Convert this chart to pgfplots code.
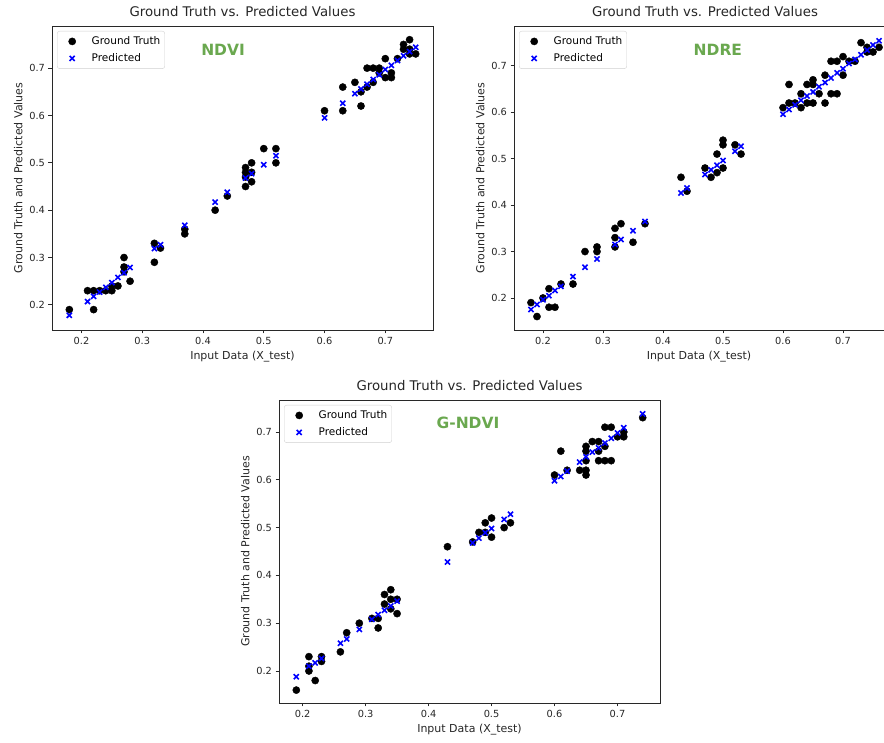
\documentclass[border=0pt]{standalone}
\usepackage{pgfplots}
\pgfplotsset{compat=1.18}
\usepackage{fontspec}
\setmainfont{DejaVu Sans}
\definecolor{ndgreen}{RGB}{106,168,79}
\definecolor{spine}{RGB}{40,40,40}
\tikzset{lab/.style={font=\fontsize{15.5}{17}\selectfont\bfseries, text=ndgreen}}
\pgfplotsset{
  scplot/.style={
    scale only axis,
    anchor=south west,
    tick align=outside,
    tick pos=left,
    major tick length=3.5pt,
    xtick={0.2,0.3,0.4,0.5,0.6,0.7},
    ytick={0.2,0.3,0.4,0.5,0.6,0.7},
    /pgf/number format/assume math mode=true,
    /pgf/number format/fixed,
    /pgf/number format/precision=1,
    /pgf/number format/fixed zerofill,
    ticklabel style={font=\fontsize{9.8}{11}\selectfont, text=black!85},
    label style={font=\fontsize{11}{13}\selectfont, text=black!85},
    title style={font=\fontsize{13.3}{15}\selectfont, text=black!85},
    xlabel={Input Data (X\_test)},
    ylabel={Ground Truth and Predicted Values},
    title={Ground Truth vs. Predicted Values},
    axis line style={spine, line width=0.8pt},
    every tick/.style={spine, line width=0.8pt},
    legend cell align=left,
    legend style={at={(0,1)}, anchor=north west, xshift=5pt, yshift=-5pt,
      draw=black!18, rounded corners=2.5pt, fill=white,
      font=\fontsize{10.5}{12}\selectfont, inner xsep=0pt, inner ysep=3.5pt, row sep=3.5pt,
      nodes={inner xsep=4.5pt, inner ysep=2pt}},
  },
  gt/.style={only marks, mark=*, mark size=3.6pt, color=black, mark options={fill=black, draw=black},
    legend image code/.code={\path[draw=none,fill=none] (0pt,-4pt) rectangle (30pt,4pt); \draw[##1] plot coordinates {(15pt,0pt)};}},
  pr/.style={only marks, mark=x, mark size=3.6pt, color=blue, mark options={draw=blue, line width=1.6pt},
    legend image code/.code={\path[draw=none,fill=none] (0pt,-4pt) rectangle (30pt,4pt); \draw[##1] plot coordinates {(15pt,0pt)};}},
}
\begin{document}
\begin{tikzpicture}
\useasboundingbox (0,0) rectangle (884pt,743pt);
% ---------------- NDVI ----------------
\begin{axis}[scplot, at={(52pt,413pt)}, width=381pt, height=304pt,
  xmin=0.1515, xmax=0.7785, ymin=0.147, ymax=0.789]
\addplot[gt] coordinates {
(0.18,0.19)(0.21,0.23)(0.22,0.23)(0.22,0.19)(0.23,0.23)(0.24,0.23)(0.25,0.23)(0.25,0.24)(0.26,0.24)
(0.27,0.30)(0.27,0.28)(0.27,0.27)(0.28,0.25)(0.32,0.33)(0.32,0.29)(0.33,0.32)(0.37,0.35)(0.37,0.36)
(0.42,0.40)(0.44,0.43)(0.47,0.49)(0.47,0.48)(0.47,0.45)(0.47,0.47)(0.48,0.50)(0.48,0.46)(0.48,0.48)
(0.50,0.53)(0.52,0.53)(0.52,0.50)(0.60,0.61)(0.63,0.66)(0.63,0.61)(0.65,0.67)(0.66,0.62)(0.66,0.65)
(0.67,0.70)(0.68,0.70)(0.69,0.70)(0.67,0.66)(0.68,0.67)(0.70,0.72)(0.70,0.68)(0.71,0.68)(0.71,0.69)
(0.69,0.69)(0.72,0.72)(0.73,0.75)(0.73,0.74)(0.74,0.76)(0.74,0.74)(0.75,0.73)(0.74,0.73)
};
\addlegendentry{Ground Truth}
\addplot[pr] coordinates {
(0.18,0.178)(0.21,0.207)(0.22,0.218)(0.23,0.227)(0.24,0.237)(0.25,0.247)(0.26,0.258)(0.27,0.268)
(0.28,0.279)(0.32,0.319)(0.33,0.327)(0.37,0.368)(0.42,0.417)(0.44,0.438)(0.47,0.468)(0.48,0.477)
(0.50,0.496)(0.52,0.515)(0.60,0.595)(0.63,0.626)(0.65,0.646)(0.66,0.656)(0.67,0.666)(0.68,0.676)
(0.69,0.686)(0.70,0.697)(0.71,0.706)(0.72,0.716)(0.73,0.726)(0.74,0.735)(0.75,0.744)
};
\addlegendentry{Predicted}
\node[lab] at (rel axis cs:0.449,0.921) {NDVI};
\end{axis}
% ---------------- NDRE ----------------
\begin{axis}[scplot, at={(514pt,413pt)}, width=370pt, height=304pt,
  axis y line*=left, axis x line*=box,
  title style={xshift=6pt},
  xmin=0.1517, xmax=0.7683, ymin=0.131, ymax=0.786]
\addplot[gt] coordinates {
(0.18,0.19)(0.19,0.16)(0.20,0.20)(0.21,0.22)(0.21,0.18)(0.22,0.18)(0.23,0.23)(0.25,0.23)(0.27,0.30)
(0.29,0.31)(0.29,0.30)(0.32,0.35)(0.32,0.33)(0.32,0.31)(0.33,0.36)(0.35,0.32)(0.37,0.36)(0.43,0.46)
(0.44,0.43)(0.47,0.48)(0.48,0.46)(0.49,0.51)(0.49,0.47)(0.50,0.54)(0.50,0.53)(0.50,0.48)(0.52,0.53)
(0.53,0.51)(0.60,0.61)(0.61,0.66)(0.61,0.62)(0.62,0.62)(0.63,0.61)(0.63,0.64)(0.64,0.66)(0.64,0.62)
(0.65,0.67)(0.65,0.66)(0.65,0.62)(0.66,0.64)(0.67,0.68)(0.67,0.62)(0.68,0.71)(0.69,0.71)(0.68,0.64)
(0.69,0.64)(0.70,0.72)(0.70,0.68)(0.71,0.71)(0.72,0.71)(0.73,0.75)(0.74,0.74)(0.74,0.73)(0.75,0.73)
(0.76,0.74)
};
\addlegendentry{Ground Truth}
\addplot[pr] coordinates {
(0.18,0.175)(0.19,0.186)(0.20,0.196)(0.21,0.205)(0.22,0.216)(0.23,0.225)(0.25,0.246)(0.27,0.266)
(0.29,0.284)(0.32,0.315)(0.33,0.326)(0.35,0.345)(0.37,0.365)(0.43,0.426)(0.44,0.437)(0.47,0.466)
(0.48,0.476)(0.49,0.486)(0.50,0.496)(0.52,0.516)(0.53,0.527)(0.60,0.596)(0.61,0.606)(0.62,0.616)
(0.63,0.626)(0.64,0.635)(0.65,0.644)(0.66,0.655)(0.67,0.664)(0.68,0.674)(0.69,0.685)(0.70,0.694)
(0.71,0.705)(0.72,0.714)(0.73,0.724)(0.74,0.734)(0.75,0.745)(0.76,0.754)
};
\addlegendentry{Predicted}
\node[lab] at (rel axis cs:0.551,0.921) {NDRE};
\end{axis}
% ---------------- G-NDVI ----------------
\begin{axis}[scplot, at={(279pt,40pt)}, width=381pt, height=303pt,
  xmin=0.1625, xmax=0.7675, ymin=0.133, ymax=0.767]
\addplot[gt] coordinates {
(0.19,0.16)(0.21,0.23)(0.21,0.21)(0.21,0.20)(0.22,0.18)(0.23,0.23)(0.23,0.22)(0.26,0.24)(0.27,0.28)
(0.29,0.30)(0.31,0.31)(0.32,0.31)(0.32,0.29)(0.33,0.36)(0.33,0.34)(0.34,0.37)(0.34,0.35)(0.34,0.33)
(0.35,0.32)(0.35,0.35)(0.43,0.46)(0.47,0.47)(0.48,0.49)(0.49,0.51)(0.49,0.49)(0.50,0.52)(0.50,0.48)
(0.52,0.50)(0.53,0.51)(0.60,0.61)(0.61,0.66)(0.62,0.62)(0.64,0.62)(0.65,0.67)(0.65,0.66)(0.65,0.64)
(0.65,0.62)(0.65,0.61)(0.66,0.68)(0.67,0.68)(0.67,0.66)(0.67,0.64)(0.68,0.71)(0.68,0.67)(0.68,0.64)
(0.69,0.71)(0.69,0.64)(0.70,0.69)(0.71,0.69)(0.71,0.70)(0.74,0.73)
};
\addlegendentry{Ground Truth}
\addplot[pr] coordinates {
(0.19,0.188)(0.21,0.210)(0.22,0.217)(0.23,0.226)(0.26,0.258)(0.27,0.267)(0.29,0.287)(0.31,0.308)
(0.32,0.318)(0.33,0.327)(0.34,0.336)(0.35,0.346)(0.43,0.428)(0.47,0.468)(0.48,0.478)(0.49,0.489)
(0.50,0.498)(0.52,0.517)(0.53,0.528)(0.60,0.598)(0.61,0.607)(0.62,0.618)(0.64,0.637)(0.65,0.648)
(0.66,0.658)(0.67,0.667)(0.68,0.677)(0.69,0.687)(0.70,0.698)(0.71,0.709)(0.74,0.738)
};
\addlegendentry{Predicted}
\node[lab] at (rel axis cs:0.496,0.924) {G-NDVI};
\end{axis}
\end{tikzpicture}
\end{document}
